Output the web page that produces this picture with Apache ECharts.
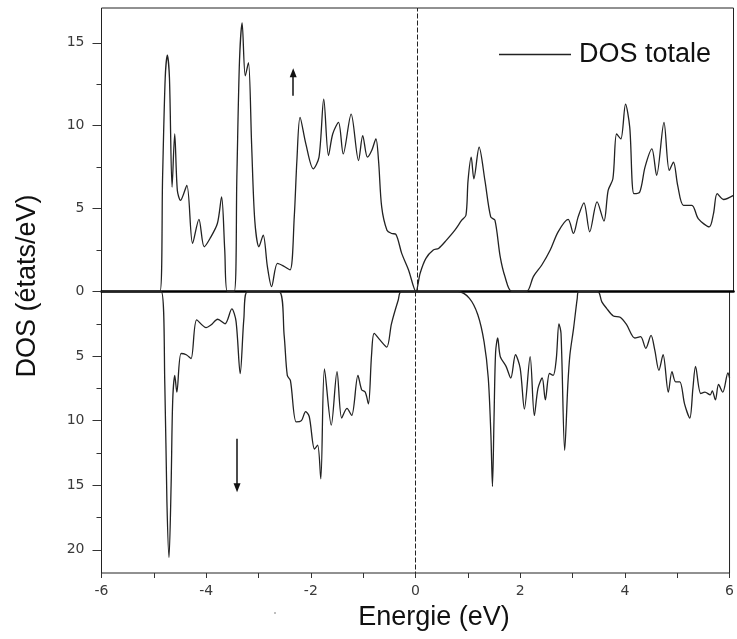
<!DOCTYPE html>
<html>
<head>
<meta charset="utf-8">
<script src="https://cdn.jsdelivr.net/npm/echarts@6/dist/echarts.min.js"></script>
<style>
  html, body { margin: 0; padding: 0; background: #fff; }
  #chart { width: 737px; height: 639px; }
</style>
</head>
<body>
<div id="chart"></div>
<script>
// Spin-up total DOS (states/eV) against energy (eV)
const energyUp = [-6.0, -4.89, -4.84, -4.79, -4.75, -4.71, -4.66, -4.61, -4.56, -4.50, -4.38, -4.27, -4.15, -4.05, -3.94, -3.80, -3.72, -3.66, -3.61, -3.48, -3.43, -3.38, -3.33, -3.27, -3.21, -3.15, -3.09, -3.01, -2.93, -2.85, -2.77, -2.66, -2.55, -2.42, -2.34, -2.29, -2.23, -2.12, -1.98, -1.87, -1.78, -1.69, -1.61, -1.50, -1.41, -1.26, -1.12, -1.04, -0.95, -0.87, -0.79, -0.74, -0.68, -0.58, -0.49, -0.41, -0.30, -0.17, -0.03, 0.05, 0.16, 0.30, 0.40, 0.55, 0.71, 0.84, 0.92, 0.96, 1.02, 1.07, 1.17, 1.28, 1.39, 1.47, 1.57, 1.66, 1.79, 2.07, 2.20, 2.36, 2.52, 2.67, 2.86, 2.96, 3.05, 3.16, 3.27, 3.41, 3.54, 3.62, 3.71, 3.78, 3.86, 3.95, 4.03, 4.11, 4.22, 4.32, 4.45, 4.54, 4.68, 4.78, 4.86, 4.94, 5.05, 5.21, 5.33, 5.54, 5.62, 5.69, 5.81, 6.0];
const dosUp = [0, 0, 6.9, 12.9, 14.25, 12.9, 6.3, 9.5, 6.1, 5.5, 6.4, 2.9, 4.35, 2.7, 3.2, 4.1, 5.7, 2.5, 0, 0, 6.9, 13.9, 16.2, 13.0, 13.8, 8.9, 4.3, 2.7, 3.4, 1.5, 0.3, 1.7, 1.55, 1.3, 4.5, 7.9, 10.5, 8.9, 7.4, 8.1, 11.6, 8.2, 9.5, 10.2, 8.3, 10.7, 7.9, 9.4, 8.1, 8.5, 9.2, 7.9, 5.1, 3.7, 3.5, 3.45, 2.3, 1.3, 0, 1.1, 2.0, 2.5, 2.6, 3.1, 3.7, 4.3, 4.6, 6.7, 8.1, 6.8, 8.7, 6.7, 4.5, 4.3, 2.1, 0.9, 0, 0, 0.9, 1.6, 2.5, 3.6, 4.35, 3.5, 4.5, 5.35, 3.6, 5.4, 4.25, 6.1, 6.8, 9.5, 9.2, 11.3, 9.9, 5.9, 6.0, 7.5, 8.6, 7.0, 10.2, 7.3, 7.8, 6.4, 5.2, 5.2, 4.4, 3.9, 4.7, 5.9, 5.55, 5.8];

// Spin-down total DOS, plotted downward from the zero line
const energyDown = [-6.0, -4.86, -4.79, -4.75, -4.71, -4.67, -4.64, -4.60, -4.56, -4.48, -4.38, -4.29, -4.18, -4.00, -3.91, -3.78, -3.64, -3.51, -3.43, -3.35, -3.28, -3.21, -2.61, -2.51, -2.45, -2.39, -2.28, -2.18, -2.10, -2.03, -1.93, -1.87, -1.81, -1.74, -1.61, -1.50, -1.41, -1.31, -1.22, -1.10, -1.03, -0.96, -0.90, -0.84, -0.79, -0.68, -0.55, -0.46, -0.33, -0.27, 0.81, 1.03, 1.19, 1.31, 1.39, 1.44, 1.47, 1.50, 1.53, 1.57, 1.62, 1.73, 1.82, 1.91, 2.00, 2.08, 2.19, 2.27, 2.34, 2.42, 2.48, 2.56, 2.63, 2.69, 2.74, 2.78, 2.85, 2.91, 2.95, 3.02, 3.09, 3.12, 3.48, 3.56, 3.65, 3.78, 3.91, 4.03, 4.19, 4.30, 4.40, 4.50, 4.57, 4.65, 4.73, 4.83, 4.90, 4.97, 5.05, 5.14, 5.24, 5.30, 5.35, 5.45, 5.53, 5.63, 5.67, 5.73, 5.79, 5.87, 5.97, 6.0];
const dosDown = [0, 0, 7.25, 16.3, 20.6, 15.0, 8.5, 6.5, 7.8, 4.8, 4.9, 5.2, 2.2, 2.8, 2.6, 2.15, 2.5, 1.35, 2.3, 6.35, 2.1, 0, 0, 3.4, 6.5, 6.9, 10.1, 10.0, 9.3, 9.7, 12.2, 11.9, 14.5, 6.0, 10.35, 6.2, 9.8, 9.05, 9.6, 6.5, 7.6, 7.8, 8.7, 4.9, 3.25, 3.75, 4.3, 2.5, 0.66, 0, 0, 0.53, 1.8, 3.9, 6.7, 11.1, 15.1, 9.8, 4.7, 3.6, 5.05, 5.8, 6.7, 4.9, 5.95, 9.1, 5.05, 9.6, 7.5, 6.7, 8.4, 6.35, 6.5, 5.2, 2.5, 3.25, 12.3, 7.25, 4.9, 2.85, 0.53, 0, 0, 0.8, 1.3, 1.9, 2.0, 2.55, 3.6, 3.5, 4.4, 3.4, 4.5, 6.1, 4.9, 7.8, 6.2, 7.0, 7.0, 8.7, 9.8, 7.5, 5.8, 7.9, 7.8, 8.0, 7.7, 8.4, 7.2, 7.8, 6.3, 6.7];

// Axis ticks
const upMajorTicks = [0, 5, 10, 15];
const upMinorTicks = [2.5, 7.5, 12.5];
const downMajorTicks = [5, 10, 15, 20];
const downMinorTicks = [2.5, 7.5, 12.5, 17.5];
const energyTicks = [-6, -5, -4, -3, -2, -1, 0, 1, 2, 3, 4, 5, 6];
const energyLabels = [-6, -4, -2, 0, 2, 4, 6];

// Spin arrows: [energy, start, end]
const arrowUp = [-2.36, 11.8, 13.2];
const arrowDown = [-3.41, 11.4, 15.2];

const seriesName = 'DOS totale';
const lineColor = '#222';
const tickFont = { fontFamily: 'DejaVu Sans', fontSize: 14, color: '#3a3a3a' };

const chart = echarts.init(document.getElementById('chart'), null, { renderer: 'canvas' });

function yAxisPair(gridIndex, max, inverse, major, minor) {
  return [
    {
      type: 'value', gridIndex: gridIndex, min: 0, max: max, inverse: inverse, position: 'left',
      axisLine: { show: false, onZero: false },
      splitLine: { show: false },
      axisTick: { show: true, length: 9, customValues: major, lineStyle: { color: '#333', width: 1 } },
      axisLabel: Object.assign({ show: true, margin: 17, customValues: major }, tickFont)
    },
    {
      type: 'value', gridIndex: gridIndex, min: 0, max: max, inverse: inverse, position: 'left',
      axisLine: { show: false, onZero: false },
      splitLine: { show: false },
      axisTick: { show: true, length: 5, customValues: minor, lineStyle: { color: '#333', width: 1 } },
      axisLabel: { show: false }
    }
  ];
}

const zeroLine = { xAxis: 0, lineStyle: { type: [5, 2], color: '#222', width: 1 } };

const option = {
  animation: false,
  backgroundColor: '#fff',
  grid: [
    { left: 101.5, right: 3.5, top: 8, height: 283.5, show: true, borderColor: '#222', borderWidth: 1, backgroundColor: 'transparent' },
    { left: 101.5, right: 3.5, top: 291.5, height: 281.5, show: true, borderColor: '#222', borderWidth: 1, backgroundColor: 'transparent' }
  ],
  xAxis: [
    {
      type: 'value', gridIndex: 0, min: -6, max: 6, position: 'bottom',
      axisLine: { show: true, onZero: false, lineStyle: { color: '#000', width: 2.6 } },
      axisTick: { show: false }, axisLabel: { show: false }, splitLine: { show: false }
    },
    {
      type: 'value', gridIndex: 1, min: -6, max: 6, position: 'bottom',
      axisLine: { show: false, onZero: false },
      axisTick: { show: true, length: 5, customValues: energyTicks, lineStyle: { color: '#333' } },
      axisLabel: Object.assign({ margin: 11, customValues: energyLabels }, tickFont),
      splitLine: { show: false }
    }
  ],
  yAxis: [].concat(
    yAxisPair(0, 17.1, false, upMajorTicks, upMinorTicks),
    yAxisPair(1, 21.8, true, downMajorTicks, downMinorTicks)
  ),
  legend: {
    data: [seriesName],
    left: 494, top: 36,
    icon: 'rect', itemWidth: 72, itemHeight: 1.5,
    textStyle: { fontFamily: 'Liberation Sans', fontSize: 27, color: '#111', padding: [0, 0, 0, 3] },
    selectedMode: false
  },
  series: [
    {
      name: seriesName, type: 'line', xAxisIndex: 0, yAxisIndex: 0,
      data: energyUp.map((e, i) => [e, dosUp[i]]),
      symbol: 'none', smooth: 0.3, color: lineColor,
      lineStyle: { color: lineColor, width: 1.3 },
      markLine: {
        silent: true, symbol: ['none', 'none'], label: { show: false },
        data: [
          zeroLine,
          [
            { coord: [arrowUp[0], arrowUp[1]], symbol: 'none' },
            { coord: [arrowUp[0], arrowUp[2]], symbol: 'triangle', symbolSize: [7, 9] }
          ]
        ],
        lineStyle: { type: 'solid', color: '#111', width: 1.5 }
      }
    },
    {
      name: seriesName, type: 'line', xAxisIndex: 1, yAxisIndex: 2,
      data: energyDown.map((e, i) => [e, dosDown[i]]),
      symbol: 'none', smooth: 0.3, color: lineColor,
      lineStyle: { color: lineColor, width: 1.3 },
      markLine: {
        silent: true, symbol: ['none', 'none'], label: { show: false },
        data: [
          zeroLine,
          [
            { coord: [arrowDown[0], arrowDown[1]], symbol: 'none' },
            { coord: [arrowDown[0], arrowDown[2]], symbol: 'triangle', symbolSize: [7, 9] }
          ]
        ],
        lineStyle: { type: 'solid', color: '#111', width: 1.5 }
      }
    }
  ],
  graphic: [
    {
      type: 'text', x: 28, y: 286, rotation: Math.PI / 2,
      style: { text: 'DOS (états/eV)', font: '27px "Liberation Sans"', fill: '#111', align: 'center', verticalAlign: 'middle' }
    },
    {
      type: 'text', x: 434, y: 618,
      style: { text: 'Energie (eV)', font: '27px "Liberation Sans"', fill: '#111', align: 'center', verticalAlign: 'middle' }
    },
    {
      type: 'circle', shape: { cx: 275, cy: 613, r: 1 }, style: { fill: '#aaa' }
    }
  ]
};

chart.setOption(option);
</script>
</body>
</html>
